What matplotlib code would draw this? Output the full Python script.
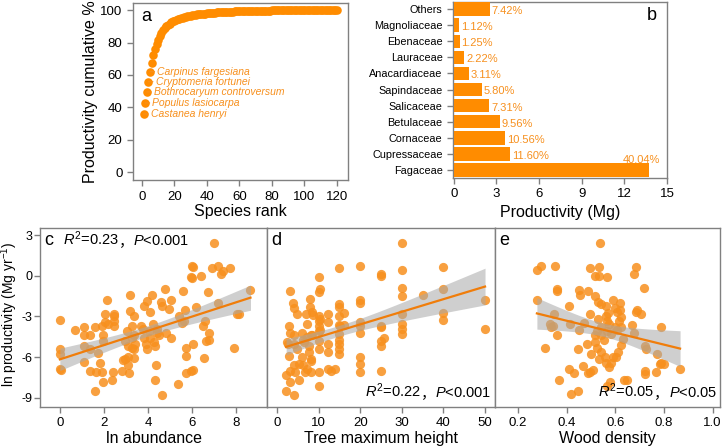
import numpy as np
import matplotlib
matplotlib.use("Agg")
import matplotlib.pyplot as plt

plt.rcParams['font.family'] = ['Liberation Sans', 'Noto Sans CJK SC', 'DejaVu Sans']
plt.rcParams['axes.unicode_minus'] = False
plt.rcParams['mathtext.fontset'] = 'custom'
plt.rcParams['mathtext.rm'] = 'Liberation Sans'
plt.rcParams['mathtext.it'] = 'Liberation Sans:italic'

# ---- data ----
# a: cumulative productivity (%) by species rank
cum_pct = [35.9, 42.7, 49.5, 55.8, 62.0, 67.6, 72.3, 75.8, 78.9, 81.5,
           84.0, 86.0, 87.6, 88.9, 90.0, 90.9, 91.7, 92.4, 93.0, 93.5,
           94.0, 94.4, 94.8, 95.1, 95.4, 95.7, 96.0, 96.2, 96.4, 96.6,
           96.8, 97.0, 97.2, 97.3, 97.5, 97.6, 97.7, 97.8, 97.9, 98.0,
           98.1, 98.2, 98.3, 98.4, 98.5, 98.55, 98.6, 98.7, 98.75, 98.8,
           98.85, 98.9, 98.95, 99.0, 99.05, 99.1, 99.15, 99.2, 99.22, 99.25,
           99.3, 99.33, 99.36, 99.4, 99.43, 99.46, 99.49, 99.52, 99.55, 99.57,
           99.6, 99.62, 99.64, 99.66, 99.68, 99.7, 99.72, 99.74, 99.75, 99.77,
           99.78, 99.8, 99.81, 99.82, 99.83, 99.84, 99.85, 99.86, 99.87, 99.88,
           99.89, 99.9, 99.91, 99.92, 99.92, 99.93, 99.94, 99.94, 99.95, 99.95,
           99.96, 99.96, 99.97, 99.97, 99.97, 99.98, 99.98, 99.98, 99.98, 99.99,
           99.99, 99.99, 99.99, 99.99, 100, 100, 100, 100, 100, 100]
top_species = ['Castanea henryi', 'Populus lasiocarpa', 'Bothrocaryum controversum',
               'Cryptomeria fortunei', 'Carpinus fargesiana']

# b: productivity by family
families = ['Fagaceae', 'Cupressaceae', 'Cornaceae', 'Betulaceae', 'Salicaceae',
            'Sapindaceae', 'Anacardiaceae', 'Lauraceae', 'Ebenaceae',
            'Magnoliaceae', 'Others']
fam_prod = [13.7, 3.97, 3.61, 3.27, 2.50, 1.98, 1.06, 0.76, 0.43, 0.38, 2.54]
fam_pct = ['40.04%', '11.60%', '10.56%', '9.56%', '7.31%', '5.80%', '3.11%',
           '2.22%', '1.25%', '1.12%', '7.42%']

# c: ln abundance vs ln productivity
c_x = [0, 0, 0, 0, 0.05, 0.69, 1.1, 1.1, 1.1, 1.1, 1.37, 1.37, 1.37, 1.6, 1.65, 1.6,
       1.75, 1.83, 1.9, 1.95, 1.9, 1.98, 1.98, 2.06, 2.16, 2.06, 2.36, 2.4, 2.44, 2.44,
       2.47, 2.47, 2.2, 2.8, 2.87, 2.97, 3.1, 2.97, 3.05, 3.1, 3.2, 3.2, 3.28, 3.28,
       3.28, 3.1, 3.15, 3.35, 3.35, 3.35, 3.35, 3.43, 3.66, 3.78, 3.8, 3.84, 3.9, 3.96,
       3.96, 4.04, 4.08, 4.1, 4.19, 4.22, 4.27, 4.3, 4.34, 4.42, 4.42, 4.3, 4.5, 4.57,
       4.65, 4.65, 4.75, 4.83, 4.95, 5.03, 5.06, 5.37, 5.4, 5.56, 5.6, 5.64, 5.67, 5.72,
       5.72, 5.72, 5.95, 5.98, 6.0, 6.05, 6.05, 5.95, 6.05, 6.16, 6.4, 6.48, 6.55, 6.6,
       6.63, 6.7, 6.78, 6.78, 6.9, 6.98, 7.16, 7.19, 7.32, 7.39, 7.7, 7.9, 8.05, 8.15, 8.65]
c_y = [-3.26, -5.37, -5.8, -6.85, -6.95, -4.0, -3.8, -4.4, -5.2, -6.35, -4.4, -5.4, -7.0,
       -3.8, -7.1, -8.5, -5.7, -6.4, -7.1, -7.8, -3.7, -4.4, -4.8, -2.8, -1.8, -3.4, -7.7,
       -7.1, -3.3, -3.7, -2.8, -3.0, -3.55, -7.0, -6.2, -6.1, -6.0, -4.8, -4.05, -5.2,
       -1.45, -2.6, -3.7, -4.6, -5.3, -6.6, -7.15, -2.95, -4.4, -5.4, -6.05, -5.05, -3.7,
       -3.9, -2.2, -4.55, -5.05, -1.85, -5.4, -4.05, -2.7, -4.55, -1.45, -3.55, -4.9, -5.2,
       -6.6, -3.9, -4.2, -7.65, -4.4, -1.9, -2.2, -8.75, -0.96, -4.2, -2.45, -1.75, -4.55,
       -8.0, -2.95, -3.45, -1.1, -3.3, -2.55, -5.3, -5.9, -7.15, -0.1, -0.2, 0.7, 0.65,
       -5.05, -7.0, -6.95, -2.3, 0.0, -3.7, -6.05, -3.3, -4.8, -1.2, -4.2, -4.75, 0.55,
       2.4, 0.75, -2.0, 0.1, 0.35, 0.6, -5.3, -2.8, -2.8, -1.05]

# d: tree maximum height vs ln productivity
d_x = [2.2, 2.2, 2.4, 2.6, 3.0, 3.2, 3.2, 3.0, 3.2, 3.2, 3.8, 4.0, 4.0, 4.0, 4.0, 4.2, 4.4,
       4.9, 4.9, 5.2, 5.4, 6.0, 6.0, 6.2, 6.6, 6.8, 7.0, 7.2, 7.2, 7.6, 7.6, 8.0, 8.0, 8.2,
       8.2, 8.2, 8.2, 8.4, 8.4, 8.6, 10.1, 10.0, 10.0, 10.0, 10.0, 10.0, 10.0, 10.0, 10.0,
       10.0, 10.4, 10.4, 10.4, 12.2, 12.2, 12.2, 12.2, 12.2, 13.0, 14.0, 15.0, 15.0, 15.0,
       15.0, 15.0, 15.0, 15.0, 15.0, 15.0, 15.0, 15.2, 16.2, 16.2, 20, 20, 20, 20, 20, 20,
       20, 20, 20, 25, 25, 25, 25, 25, 25, 25.6, 25, 30, 30, 30, 30, 30, 30, 30, 30, 35,
       40, 40, 40, 40, 50, 50, 7.2, 6.2]
d_y = [-8.5, -7.3, -4.9, -5.0, -3.7, -1.1, -4.2, -5.9, -7.0, -7.8, -2.0, -2.4, -4.4, -5.0,
       -6.6, -8.75, -7.1, -2.8, -5.4, -7.7, -6.5, -4.2, -6.0, -6.6, -4.9, -7.1, -2.8, -6.9,
       -4.5, -5.2, -5.6, -1.7, -2.3, -4.4, -6.1, -6.3, -7.1, -2.7, -4.4, -2.9, -0.1, -1.2,
       -3.0, -3.3, -3.7, -4.1, -4.8, -5.4, -7.1, -8.1, -1.0, -3.2, -4.0, -2.8, -3.4, -5.0,
       -5.6, -6.9, -7.0, -6.9, 0.6, -2.1, -2.3, -3.0, -3.6, -4.3, -4.7, -5.0, -5.4, -5.8,
       -3.7, -3.6, -2.75, 0.75, -1.8, -2.0, -3.4, -3.7, -4.2, -6.0, -6.5, -7.1, 0.1, 0.0,
       -3.7, -3.8, -4.8, -5.2, -4.6, -7.0, 2.4, 0.4, -0.9, -1.5, -2.8, -3.55, -3.9, -4.3,
       -1.45, 0.65, -0.95, -2.75, -3.25, -1.75, -3.9, -3.55, -4.7]

# e: wood density vs ln productivity
e_x = [0.537, 0.278, 0.294, 0.353, 0.498, 0.534, 0.516, 0.534, 0.564, 0.684, 0.676, 0.717,
       0.278, 0.36, 0.362, 0.452, 0.456, 0.489, 0.516, 0.53, 0.543, 0.561, 0.591, 0.618,
       0.618, 0.605, 0.687, 0.691, 0.705, 0.411, 0.349, 0.343, 0.335, 0.414, 0.452, 0.471,
       0.498, 0.53, 0.561, 0.564, 0.573, 0.543, 0.525, 0.516, 0.516, 0.523, 0.543, 0.552,
       0.566, 0.584, 0.598, 0.605, 0.616, 0.625, 0.625, 0.632, 0.625, 0.612, 0.602, 0.589,
       0.584, 0.573, 0.561, 0.557, 0.543, 0.534, 0.509, 0.498, 0.489, 0.469, 0.448, 0.502,
       0.485, 0.67, 0.676, 0.72, 0.727, 0.789, 0.789, 0.771, 0.785, 0.802, 0.866, 0.72,
       0.72, 0.768, 0.312, 0.36, 0.411, 0.43, 0.37, 0.417, 0.448, 0.566, 0.635, 0.646,
       0.58, 0.332, 0.598, 0.57]
e_y = [2.4, 0.4, 0.7, 0.75, 0.6, 0.65, 0.0, 0.0, -0.1, 0.65, 0.15, -0.9, -1.75, -1.0, -1.15,
       -1.05, -1.45, -1.1, -1.5, -1.9, -2.05, -2.25, -1.75, -2.0, -2.5, -2.65, -2.7, -2.55,
       -2.8, -2.2, -2.8, -3.7, -3.8, -3.55, -4.0, -3.5, -2.8, -3.15, -2.95, -3.3, -3.55,
       -3.8, -4.1, -4.4, -4.9, -5.35, -4.4, -4.75, -4.1, -4.3, -3.75, -4.0, -3.3, -3.05,
       -3.75, -4.65, -5.1, -5.6, -6.0, -6.0, -6.45, -6.75, -6.45, -5.95, -5.6, -6.15, -6.95,
       -7.1, -7.15, -6.65, -5.4, -5.8, -5.0, -3.65, -4.2, -5.2, -5.4, -3.75, -6.4, -5.8,
       -6.5, -6.5, -6.85, -7.0, -7.25, -7.1, -5.35, -4.4, -6.9, -7.15, -7.7, -8.7, -8.5,
       -8.1, -7.7, -7.7, -7.85, -3.55, -2.4, -2.75]

# fit statistics shown on panels
c_stat = (r'$R^2$=0.23', r'$P$<0.001')
d_stat = (r'$R^2$=0.22', r'$P$<0.001')
e_stat = (r'$R^2$=0.05', r'$P$<0.05')

bar_col = '#FF8C00'
pt_col = '#F7901E'
line_col = '#F07D0A'
txt_col = '#F7901E'
frame_col = '#808080'


def style_box(ax):
    for s in ax.spines.values():
        s.set_color(frame_col)
        s.set_linewidth(1.0)
    ax.tick_params(color=frame_col, length=4, width=1.0)


def fit_with_ci(ax, x, y):
    x = np.asarray(x, float)
    y = np.asarray(y, float)
    n = len(x)
    b, a = np.polyfit(x, y, 1)
    xs = np.linspace(x.min(), x.max(), 100)
    ys = a + b * xs
    resid = y - (a + b * x)
    s = np.sqrt(np.sum(resid ** 2) / (n - 2))
    se = s * np.sqrt(1 / n + (xs - x.mean()) ** 2 / np.sum((x - x.mean()) ** 2))
    t = 1.98
    ax.fill_between(xs, ys - t * se, ys + t * se, color='#A8A8A8', alpha=0.55, lw=0, zorder=3)
    ax.plot(xs, ys, color=line_col, lw=1.6, zorder=4)


def stat_text(ax, stat, x, y, ha, size=10.5):
    # R2 part, full-width comma, P part, chained so the comma can use a CJK font
    pieces = [(stat[0], {}), ('，', {'family': ['Noto Sans CJK SC']}), (stat[1], {})]
    if ha == 'right':
        pieces = pieces[::-1]
    s, kw = pieces[0]
    prev = ax.text(x, y, s, transform=ax.transAxes, ha=ha, va='baseline', fontsize=size, **kw)
    for s, kw in pieces[1:]:
        fx = 1 if ha == 'left' else 0
        prev = ax.annotate(s, xy=(fx, y), xycoords=(prev, 'axes fraction'),
                           ha=ha, va='baseline', fontsize=size, **kw)


fig = plt.figure(figsize=(7.25, 4.48), dpi=100)

# ---- panel a ----
ax_a = fig.add_axes([0.1834, 0.598, 0.2966, 0.395])
rank = np.arange(1, len(cum_pct) + 1)
ax_a.scatter(rank, cum_pct, s=38, color=bar_col, lw=0, zorder=3)
for i, name in enumerate(top_species):
    ax_a.annotate(name, xy=(rank[i], cum_pct[i]), xytext=(rank[i] + 4.5, cum_pct[i]),
                  fontsize=7.5, style='italic', color=txt_col, va='center',
                  arrowprops=dict(arrowstyle='-', color=txt_col, lw=0.8,
                                  shrinkA=0, shrinkB=0))
ax_a.set_xlim(-5.5, 126.8)
ax_a.set_ylim(-4.9, 104.3)
ax_a.set_xticks(range(0, 121, 20))
ax_a.set_yticks(range(0, 101, 20))
ax_a.tick_params(labelsize=9.5)
ax_a.set_xlabel('Species rank', fontsize=11.5, labelpad=1)
ax_a.set_ylabel('Productivity cumulative %', fontsize=11.5, labelpad=2)
ax_a.text(0.04, 0.97, 'a', transform=ax_a.transAxes, fontsize=13, va='top')
style_box(ax_a)

# ---- panel b ----
ax_b = fig.add_axes([0.6248, 0.6027, 0.2952, 0.393])
ypos = np.arange(len(families))
ax_b.barh(ypos, fam_prod, height=0.84, color=bar_col, zorder=3)
for i, (v, lab) in enumerate(zip(fam_prod, fam_pct)):
    if i == 0:
        ax_b.text(v + 0.85, i + 0.62, lab, color=txt_col, fontsize=8, ha='right', va='center')
    else:
        ax_b.text(v + 0.12, i - 0.12, lab, color=txt_col, fontsize=8, ha='left', va='center')
ax_b.set_yticks(ypos)
ax_b.set_yticklabels(families, fontsize=7.8)
ax_b.set_xlim(-0.05, 15)
ax_b.set_ylim(-0.5, 10.45)
ax_b.set_xticks(range(0, 16, 3))
ax_b.tick_params(axis='x', labelsize=9.5)
ax_b.set_xlabel('Productivity (Mg)', fontsize=11.5, labelpad=3)
ax_b.text(0.95, 0.97, 'b', transform=ax_b.transAxes, fontsize=13, va='top', ha='right')
style_box(ax_b)

# ---- panels c, d, e ----
bottom, height = 0.0915, 0.3996
ax_c = fig.add_axes([0.0552, bottom, 0.3131, height])
ax_d = fig.add_axes([0.3683, bottom, 0.3145, height])
ax_e = fig.add_axes([0.6828, bottom, 0.3103, height])

panels = [
    (ax_c, c_x, c_y, 'c', 'ln abundance', (-0.9, 9.4), [0, 2, 4, 6, 8], ['0', '2', '4', '6', '8'],
     c_stat, (0.1, 0.905, 'left')),
    (ax_d, d_x, d_y, 'd', 'Tree maximum height', (-2.4, 52.4), [0, 10, 20, 30, 40, 50],
     ['0', '10', '20', '30', '40', '50'], d_stat, (0.985, 0.055, 'right')),
    (ax_e, e_x, e_y, 'e', 'Wood density', (0.106, 1.03), [0.2, 0.4, 0.6, 0.8, 1.0],
     ['0.2', '0.4', '0.6', '0.8', '1.0'], e_stat, (0.985, 0.055, 'right')),
]
for ax, xs, ys, lab, xlab, xlim, xt, xtl, stat, (tx, ty, ha) in panels:
    ax.scatter(xs, ys, s=44, color=pt_col, alpha=0.85, lw=0, zorder=2)
    fit_with_ci(ax, xs, ys)
    ax.set_xlim(*xlim)
    ax.set_ylim(-9.67, 3.52)
    ax.set_xticks(xt)
    ax.set_xticklabels(xtl)
    ax.tick_params(labelsize=9.5)
    ax.set_xlabel(xlab, fontsize=11.5, labelpad=1)
    ax.text(0.02, 0.975, lab, transform=ax.transAxes, fontsize=13, va='top')
    stat_text(ax, stat, tx, ty, ha)
    style_box(ax)

ax_c.set_yticks([3, 0, -3, -6, -9])
ax_c.tick_params(axis='y', pad=1.5, labelsize=9)
ax_c.set_ylabel('ln productivity (Mg yr$^{-1}$)', fontsize=10, labelpad=0)
ax_c.yaxis.set_label_coords(-0.089, 0.52)
for ax in (ax_d, ax_e):
    ax.set_yticks([])

fig.savefig('out.png', dpi=100)
